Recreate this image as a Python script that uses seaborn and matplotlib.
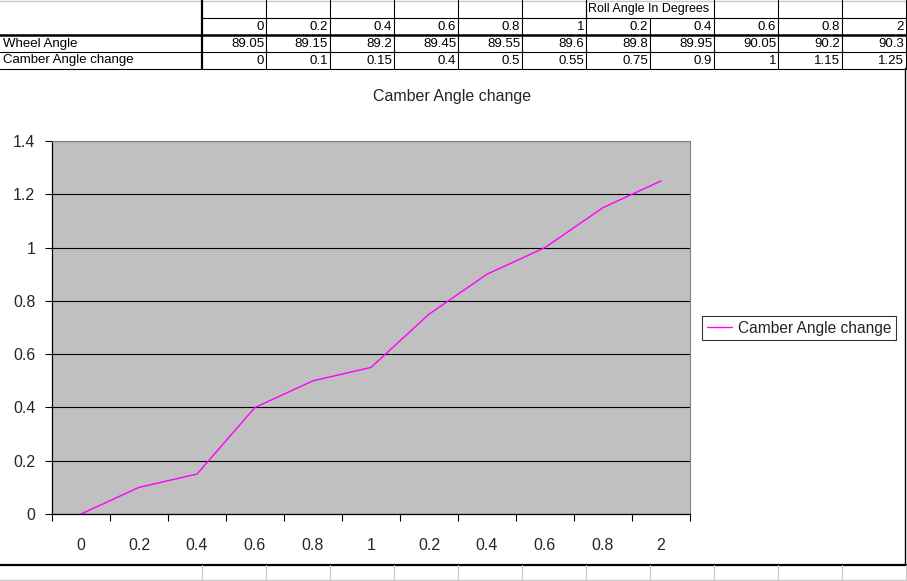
import numpy as np
import pandas as pd
import seaborn as sns
import matplotlib.pyplot as plt
from matplotlib.lines import Line2D

# Data read from the sheet
roll_labels = ['0', '0.2', '0.4', '0.6', '0.8', '1', '0.2', '0.4', '0.6', '0.8', '2']
wheel_angle = [89.05, 89.15, 89.2, 89.45, 89.55, 89.6, 89.8, 89.95, 90.05, 90.2, 90.3]
camber_change = [0, 0.1, 0.15, 0.4, 0.5, 0.55, 0.75, 0.9, 1, 1.15, 1.25]
y_ticks = [0, 0.2, 0.4, 0.6, 0.8, 1, 1.2, 1.4]

W, H = 907, 581
sns.set_theme(style='white')
plt.rcParams['font.family'] = ['Liberation Sans', 'DejaVu Sans']

fig = plt.figure(figsize=(W / 100, H / 100), dpi=100)


def fx(px):
    return px / W


def fy(py):
    return 1 - py / H


def hline(y, x0, x1, lw=1.0, color='black'):
    fig.add_artist(Line2D([fx(x0), fx(x1)], [fy(y), fy(y)], lw=lw, color=color))


def vline(x, y0, y1, lw=1.0, color='black'):
    fig.add_artist(Line2D([fx(x), fx(x)], [fy(y0), fy(y1)], lw=lw, color=color))


def cell_text(x, y, s, ha='right', size=9.5):
    fig.text(fx(x), fy(y), s, ha=ha, va='center', fontsize=size, color='black')


# ---- spreadsheet table on top ----
col_edges = [202 + 64 * i for i in range(12)]
hline(1, 0, W, lw=1.0, color='#c8c8c8')
hline(18, 202, 906, lw=0.8)
hline(35, 0, 906, lw=1.8)
hline(52, 0, 906, lw=0.8)
hline(68.5, 0, 906, lw=0.8)
vline(202, 0, 69, lw=1.6)
for x in col_edges[1:]:
    if 586 < x < 714:
        vline(x, 18, 69, lw=0.8)
    else:
        vline(x, 0, 69, lw=0.8)
vline(586, 0, 18, lw=0.8)

cell_text(588, 9, 'Roll Angle In Degrees', ha='left', size=9)
for i, lab in enumerate(roll_labels):
    right = col_edges[i + 1] - 2
    cell_text(right, 26.5, lab)
    cell_text(right, 44, f'{wheel_angle[i]:g}')
    cell_text(right, 60.5, f'{camber_change[i]:g}')
cell_text(3, 44, 'Wheel Angle', ha='left')
cell_text(3, 60.5, 'Camber Angle change', ha='left')

# ---- chart area borders ----
vline(905, 68, 565, lw=1.0)
hline(564.5, 0, 906, lw=1.6)
hline(580, 0, 906, lw=1.0, color='#c8c8c8')
vline(202, 565, 581, lw=0.8, color='#c8c8c8')
for x in col_edges[1:]:
    vline(x, 565, 581, lw=0.8, color='#c8c8c8')

# ---- plot ----
ax = fig.add_axes([fx(52), fy(514), fx(690) - fx(52), fy(141) - fy(514)])
ax.set_facecolor('#c0c0c0')

df = pd.DataFrame({'pos': np.arange(len(roll_labels)), 'camber': camber_change})
sns.lineplot(data=df, x='pos', y='camber', ax=ax, color='#ff00ff', lw=1.0,
             label='Camber Angle change')

ax.set_xlim(-0.5, len(roll_labels) - 0.5)
ax.set_ylim(0, 1.4)
ax.set_yticks(y_ticks)
ax.set_yticklabels([f'{v:g}' for v in y_ticks], fontsize=11.5)
ax.set_xticks(np.arange(-0.5, len(roll_labels)), minor=False)
ax.set_xticklabels([])
ax.set_xticks(np.arange(len(roll_labels)), minor=True)
ax.set_xticklabels(roll_labels, minor=True, fontsize=11.5)
ax.tick_params(axis='x', which='major', direction='out', length=5, width=0.8,
               color='black', bottom=True)
ax.tick_params(axis='x', which='minor', length=0, pad=17)
ax.tick_params(axis='y', direction='out', length=5, width=0.8, color='black',
               left=True, pad=7)
ax.yaxis.grid(True, color='black', lw=0.8)
ax.set_axisbelow(True)
for side in ['top', 'right']:
    ax.spines[side].set_color('#808080')
    ax.spines[side].set_linewidth(0.8)
for side in ['left', 'bottom']:
    ax.spines[side].set_color('black')
    ax.spines[side].set_linewidth(0.9)
ax.set_xlabel('')
ax.set_ylabel('')

fig.text(fx(452), fy(97), 'Camber Angle change', ha='center', va='center',
         fontsize=11.5)

leg = ax.legend(loc='center left', bbox_to_anchor=(fx(702), fy(328)),
                bbox_transform=fig.transFigure, fontsize=11.2, frameon=True,
                fancybox=False, edgecolor='black', handlelength=1.6,
                borderpad=0.3, handletextpad=0.4, borderaxespad=0)
leg.get_frame().set_linewidth(0.8)

fig.savefig('out.png', dpi=100)
